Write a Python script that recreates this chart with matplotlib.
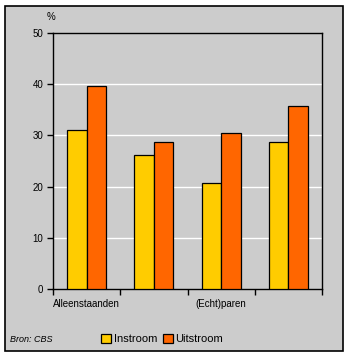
import matplotlib
matplotlib.use("Agg")
import matplotlib.pyplot as plt
from matplotlib.patches import Rectangle
import numpy as np

plt.rcParams['font.family'] = ['Liberation Sans', 'DejaVu Sans']

groepen = ["Alleenstaanden", "", "(Echt)paren", ""]
instroom = [31.0, 26.2, 20.7, 28.7]
uitstroom = [39.6, 28.7, 30.5, 35.7]
yticks = [0, 10, 20, 30, 40, 50]

geel = "#FFCC00"
oranje = "#FF6600"
grijs = "#CCCCCC"

fig = plt.figure(figsize=(3.49, 3.57), dpi=100)
fig.patch.set_facecolor("white")
# grijze achtergrond met zwarte rand
fig.patches.append(Rectangle((5/349, 1-351/357), 338/349, 345/357, transform=fig.transFigure,
                             facecolor=grijs, edgecolor="black", linewidth=1.2, zorder=-1))

ax = fig.add_axes([53/349, 1-289/357, 269/349, 256/357])
ax.set_facecolor(grijs)

x = np.arange(len(groepen))
b = 0.29
ax.bar(x - b/2, instroom, b, color=geel, edgecolor="black", linewidth=0.9, label="Instroom", zorder=3)
ax.bar(x + b/2, uitstroom, b, color=oranje, edgecolor="black", linewidth=0.9, label="Uitstroom", zorder=3)

ax.set_xlim(-0.5, len(groepen) - 0.5)
ax.set_ylim(0, 50)
ax.set_yticks(yticks)
ax.set_yticklabels([str(v) for v in yticks], fontsize=7)
for v in yticks[1:-1]:
    ax.axhline(v, color="white", linewidth=1, zorder=1)

ax.set_xticks(x)
ax.set_xticklabels(groepen, fontsize=7)
ax.tick_params(axis="x", which="major", length=0, pad=7)
ax.set_xticks(np.arange(-0.5, len(groepen)), minor=True)
ax.tick_params(axis="x", which="minor", length=4, width=1, direction="out")
ax.tick_params(axis="y", length=4, width=1, direction="out", pad=3)
for s in ax.spines.values():
    s.set_linewidth(1)
    s.set_color("black")

fig.text(47/349, 1-17/357, "%", fontsize=7, va="center")
fig.text(10/349, 1-339/357, "Bron: CBS", fontsize=6.5, style="italic", va="center")

leg = fig.legend(loc="center", bbox_to_anchor=(162/349, 1-339/357), ncol=2, frameon=False,
                 fontsize=8, handlelength=0.9, handleheight=0.9, handletextpad=0.2,
                 columnspacing=0.5, borderpad=0)

fig.savefig("out.png", dpi=100)
